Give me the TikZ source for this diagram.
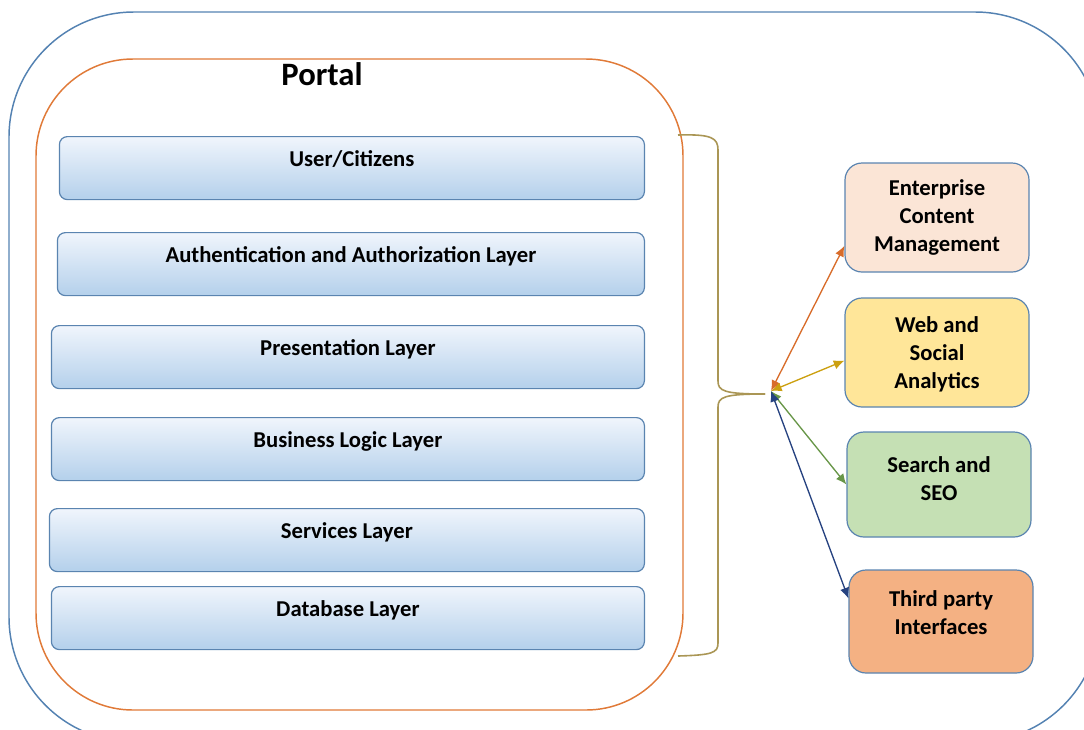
\documentclass[tikz,border=0pt]{standalone}
\usepackage{fontspec}
\setmainfont{Carlito}
\usepackage{xcolor}
\usepackage{tikz}
\usetikzlibrary{shapes,positioning,arrows,arrows.meta,calc}
\definecolor{fbl}{RGB}{84,130,178}
\definecolor{for}{RGB}{224,122,56}
\definecolor{lbd}{RGB}{90,132,176}
\definecolor{ltp}{RGB}{240,245,252}
\definecolor{lbt}{RGB}{180,208,235}
\definecolor{bro}{RGB}{170,150,85}
\definecolor{aor}{RGB}{216,108,42}
\definecolor{agd}{RGB}{204,160,16}
\definecolor{agr}{RGB}{104,150,72}
\definecolor{anv}{RGB}{38,66,128}
\definecolor{cecm}{RGB}{251,229,214}
\definecolor{cweb}{RGB}{255,230,153}
\definecolor{csrc}{RGB}{197,224,180}
\definecolor{ctpi}{RGB}{244,177,131}
\newcommand{\lift}[2]{\raisebox{#1}[\height][\depth]{\begin{tabular}{@{}c@{}}#2\end{tabular}}}
\tikzset{
	every node/.style = { align = center, draw },
	clr/.style = { draw=none },
	hd/.style = { clr, font=\fontsize{24.5}{29}\selectfont\bfseries },
	lay/.style = { rectangle, rounded corners=6pt, draw=lbd, line width=0.9pt, top color=ltp, bottom color=lbt,
		anchor=north east, inner ysep=0pt, text height=22.5pt, text depth=24.75pt,
		font=\fontsize{17}{21}\selectfont\bfseries },
	ext/.style = { rectangle, rounded corners=12.75pt, draw=lbd, line width=0.9pt, minimum width=138pt,
		font=\fontsize{17}{21}\selectfont\bfseries },
	brc/.style = { bro, line width=1.2pt },
	lnk/.style = { <->, >={Latex[length=8pt,width=7pt]}, line width=1pt },
}
\begin{document}
\begin{tikzpicture}[x=0.75pt,y=-0.75pt]
\useasboundingbox (0,0) rectangle (1084,729);
\clip (0,0) rectangle (1084,729);

% frames
\draw[fbl, line width=1.1pt, rounded corners=93.75pt] (9,12) rectangle (1100,742);
\draw[for, line width=1.1pt, rounded corners=72.75pt] (36,59) rectangle (683,710);
\node (prt) [hd] at (322,74) {Portal};

% portal layers
\node (usr) [lay, minimum width=438.75pt] at (645,136) {User/Citizens};
\node (aut) [lay, minimum width=440.25pt] at (645,232) {Authentication and Authorization Layer};
\node (prs) [lay, minimum width=444.75pt] at (645,325) {Presentation Layer};
\node (bsl) [lay, minimum width=444.75pt] at (645,417) {Business Logic Layer};
\node (svc) [lay, minimum width=446.25pt] at (645,508) {Services Layer};
\node (dbl) [lay, minimum width=444.75pt] at (645,586) {Database Layer};

% external systems
\node (ecm) [ext, fill=cecm, minimum height=81.75pt] at (937,217.5) {Enterprise\\Content\\Management};
\node (web) [ext, fill=cweb, minimum height=81.75pt] at (937,352.5) {\lift{-2pt}{Web and\\Social\\Analytics}};
\node (src) [ext, fill=csrc, minimum height=78.75pt] at (939,484.5) {\lift{3pt}{Search and\\SEO}};
\node (tpi) [ext, fill=ctpi, minimum height=77.25pt] at (941,621.5) {\lift{5.25pt}{Third party\\Interfaces}};

% brace
\coordinate (tip) at (765,394);
\coordinate (hub) at (771,391);
\draw[brc] (678,135) .. controls (712,134) and (718,138) .. (718,150) -- (718,381) .. controls (718,391) and (724,394) .. (tip);
\draw[brc] (tip) .. controls (724,394) and (718,397) .. (718,407) -- (718,643) .. controls (718,653) and (712,655) .. (678,656);

\draw[lnk, aor] (hub) -- (ecm.197);
\draw[lnk, agd] (hub) -- (web.185);
\draw[lnk, agr] (hub) -- (src.west);
\draw[lnk, anv] (hub) -- (tpi.166);

\end{tikzpicture}
\end{document}
